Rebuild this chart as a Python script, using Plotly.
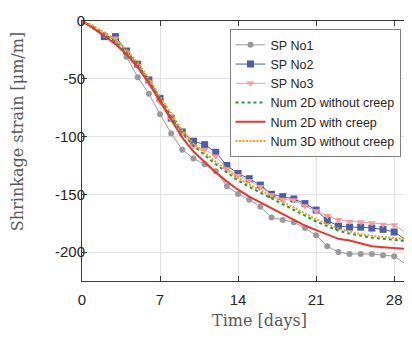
import plotly.graph_objects as go

# ---- data ----
sp_days = [0, 2, 3, 4, 5, 6, 7, 8, 9, 10, 11, 12, 13, 14, 15, 16, 17, 18, 19, 20,
           21, 22, 23, 24, 25, 26, 27, 28, 29.3]
sp_no1 = [0, -12, -17, -31, -48.6, -63, -80.7, -97.4, -111.4, -119, -124, -130, -143,
          -149.7, -154.7, -160.8, -170, -172.3, -174.2, -179.2, -185.4, -195, -200,
          -201.6, -201.6, -201.6, -202.7, -203.5, -212]
sp_no2 = [0, -13.5, -13.5, -26, -37.4, -51, -67, -84, -96, -104, -107, -113.6, -125,
          -132, -136.5, -142, -150, -152, -154, -158, -163.6, -172.5, -177.5,
          -178.4, -178.4, -179.2, -180.3, -182.6, -191]
sp_no3 = [0, -12, -15, -27, -39, -53, -70, -85, -97.4, -108.3, -111.2, -117, -128,
          -134, -138.3, -143.5, -150.5, -154.5, -155, -160.1, -164.4, -168.6, -172,
          -173.5, -174, -174.8, -176, -176.6, -184.8]

num_days = [0, 1, 2, 3, 4, 5, 6, 7, 8, 9, 10, 11, 12, 13, 14, 15, 16, 17, 18, 19, 20,
            21, 22, 23, 24, 25, 26, 27, 28, 29.3]
num_2d_nocreep = [0, -5, -11, -18, -27, -38, -52, -67, -83, -97, -108, -116, -124,
                  -131, -138, -143.5, -148.5, -154, -159, -164, -169, -173.5, -177.5,
                  -181.5, -184, -186, -187.5, -188.5, -189.5, -190.5]
num_2d_creep = [0, -6, -13, -20, -29, -40, -54, -70, -86, -101, -113, -122, -131,
                -139, -146, -152, -157, -162, -167, -172, -177, -181, -185, -188.5,
                -190, -192.5, -195, -195.8, -196.3, -197.5]
num_3d_nocreep = [0, -4, -10, -16, -25, -36, -50, -65, -81, -95, -106, -114, -122,
                  -129, -136, -141.5, -146.5, -152, -157, -162, -167, -171.5, -175.5,
                  -179.5, -182, -184.5, -186, -187, -188, -189]

x_ticks = [0, 7, 14, 21, 28]
y_ticks = [0, -50, -100, -150, -200]

fig = go.Figure()
fig.add_trace(go.Scatter(x=sp_days, y=sp_no1, name="SP No1", mode="lines+markers",
                         line=dict(color="#9a9a9a", width=1),
                         marker=dict(symbol="circle", size=6, color="#9a9a9a")))
fig.add_trace(go.Scatter(x=sp_days, y=sp_no2, name="SP No2", mode="lines+markers",
                         line=dict(color="#4a5ea9", width=1),
                         marker=dict(symbol="square", size=7, color="#4a5ea9")))
fig.add_trace(go.Scatter(x=sp_days, y=sp_no3, name="SP No3", mode="lines+markers",
                         line=dict(color="#f59c9c", width=1),
                         marker=dict(symbol="triangle-down", size=7, color="#f59c9c")))
fig.add_trace(go.Scatter(x=num_days, y=num_2d_nocreep, name="Num 2D without creep",
                         mode="lines", line=dict(color="#17a043", width=2, dash="3px,3px")))
fig.add_trace(go.Scatter(x=num_days, y=num_2d_creep, name="Num 2D with creep",
                         mode="lines", line=dict(color="#ee3333", width=2)))
fig.add_trace(go.Scatter(x=num_days, y=num_3d_nocreep, name="Num 3D without creep",
                         mode="lines", line=dict(color="#ff9a1a", width=2, dash="2px,1.5px")))

axis_common = dict(showgrid=True, gridcolor="#e4e4e4", gridwidth=1,
                   showline=True, linecolor="#3a3a3a", linewidth=1, mirror="ticks",
                   ticks="inside", ticklen=5, tickcolor="#3a3a3a", zeroline=False,
                   ticklabeloverflow="allow",
                   tickfont=dict(family="Liberation Sans, Arial", size=15, color="#262626"))

fig.update_xaxes(range=[0, 29.6], tickvals=x_ticks, ticktext=[str(v) for v in x_ticks],
                 ticklabelstandoff=5, **axis_common)
fig.update_yaxes(range=[-225, 0], tickvals=y_ticks, ticktext=[str(v) for v in y_ticks],
                 ticklabelstandoff=-7, **axis_common)

fig.add_annotation(text="Time [days]", xref="paper", yref="paper",
                   x=(259 - 82) / 330, y=(281 - 322) / 269, showarrow=False,
                   xanchor="center", yanchor="middle",
                   font=dict(family="DejaVu Serif", size=16, color="#5a5a5a"))
fig.add_annotation(text="Shrinkage strain [μm/m]", xref="paper", yref="paper",
                   x=(17 - 82) / 330, y=(281 - 127) / 269, showarrow=False, textangle=-90,
                   xanchor="center", yanchor="middle",
                   font=dict(family="DejaVu Serif", size=16, color="#5a5a5a"))

fig.update_layout(
    width=412, height=342,
    margin=dict(l=74, r=8, t=4, b=69),
    paper_bgcolor="white", plot_bgcolor="white",
    legend=dict(x=(229.5 - 82) / 330, y=(281 - 20.5) / 269, xanchor="left", yanchor="top",
                bgcolor="white", bordercolor="#808080", borderwidth=1,
                font=dict(family="Liberation Sans, Arial", size=12.5, color="#262626"),
                itemwidth=30),
    showlegend=True,
)

fig.write_html("out.html")
